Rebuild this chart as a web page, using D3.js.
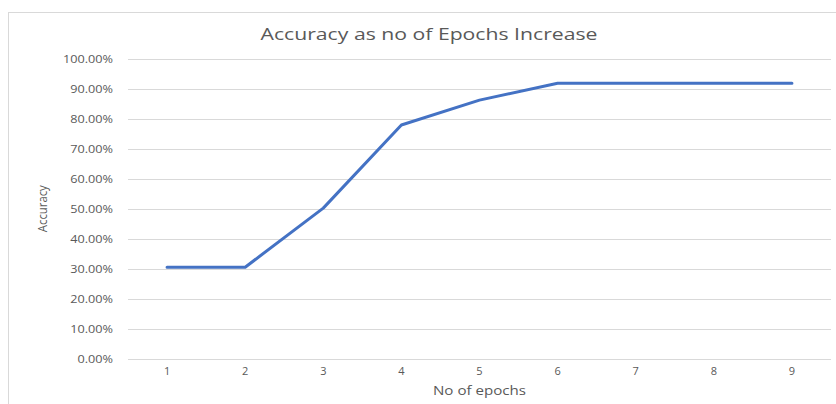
<!DOCTYPE html>
<html>
<head>
<meta charset="utf-8">
<script src="https://cdn.jsdelivr.net/npm/d3@7"></script>
<style>
  html, body { margin: 0; padding: 0; background: #fff; }
  svg { display: block; }
</style>
</head>
<body>
<svg id="chart" width="836" height="404"></svg>
<script>
// Epoch numbers along the x axis
const epochs = ["1", "2", "3", "4", "5", "6", "7", "8", "9"];
// Accuracy reached at each epoch (fraction)
const accuracy = [0.305, 0.305, 0.502, 0.779, 0.862, 0.918, 0.918, 0.918, 0.918];
// Y tick values
const yTicks = [0, 0.1, 0.2, 0.3, 0.4, 0.5, 0.6, 0.7, 0.8, 0.9, 1.0];

const svg = d3.select("#chart");
const fontFam = "'Open Sans', 'Liberation Sans', sans-serif";
const textColor = "#595959";

// Widen a text node horizontally by a factor, keeping its anchor
function stretch(sel, factor) {
  sel.each(function () {
    const w = this.getComputedTextLength();
    d3.select(this).attr("textLength", w * factor).attr("lengthAdjust", "spacingAndGlyphs");
  });
}

// Outer chart frame
svg.append("rect")
  .attr("x", 8.5).attr("y", 12.5)
  .attr("width", 840).attr("height", 400)
  .attr("fill", "#fff")
  .attr("stroke", "#d9d9d9").attr("stroke-width", 1);

const plot = { left: 128, right: 831, top: 58.7, bottom: 358.7 };

const x = d3.scaleBand().domain(epochs).range([plot.left, plot.right]);
const y = d3.scaleLinear().domain([0, 1]).range([plot.bottom, plot.top]);

// Horizontal gridlines
svg.append("g")
  .selectAll("line")
  .data(yTicks)
  .join("line")
  .attr("x1", plot.left).attr("x2", plot.right)
  .attr("y1", d => Math.round(y(d)) + 0.5)
  .attr("y2", d => Math.round(y(d)) + 0.5)
  .attr("stroke", "#d9d9d9").attr("stroke-width", 1);

// Y axis labels
const yAxis = d3.axisLeft(y).tickValues(yTicks)
  .tickFormat(d3.format(".2%")).tickSize(0).tickPadding(0);
const yg = svg.append("g").attr("transform", `translate(${plot.left - 15},0)`).call(yAxis);
yg.select(".domain").remove();
yg.selectAll("text")
  .attr("font-family", fontFam).attr("font-size", 11)
  .attr("fill", textColor);
stretch(yg.selectAll("text"), 1.15);

// X axis labels
const xAxis = d3.axisBottom(x).tickSize(0).tickPadding(0);
const xg = svg.append("g").attr("transform", `translate(0,${plot.bottom + 8})`).call(xAxis);
xg.select(".domain").remove();
xg.selectAll("text")
  .attr("font-family", fontFam).attr("font-size", 11)
  .attr("fill", textColor);

// Accuracy line
const line = d3.line()
  .x((d, i) => x(epochs[i]) + x.bandwidth() / 2)
  .y(d => y(d));

svg.append("path")
  .datum(accuracy)
  .attr("d", line)
  .attr("fill", "none")
  .attr("stroke", "#4472c4")
  .attr("stroke-width", 3)
  .attr("stroke-linejoin", "round")
  .attr("stroke-linecap", "round");

// Title
svg.append("text")
  .attr("x", 429).attr("y", 40)
  .attr("text-anchor", "middle")
  .attr("font-family", fontFam).attr("font-size", 16.5)
  .attr("fill", textColor)
  .attr("textLength", 337)
  .attr("lengthAdjust", "spacingAndGlyphs")
  .text("Accuracy as no of Epochs Increase");

// X axis title
svg.append("text")
  .attr("x", (plot.left + plot.right) / 2).attr("y", 395)
  .attr("text-anchor", "middle")
  .attr("font-family", fontFam).attr("font-size", 12)
  .attr("fill", textColor)
  .attr("textLength", 93)
  .attr("lengthAdjust", "spacingAndGlyphs")
  .text("No of epochs");

// Y axis title
svg.append("text")
  .attr("transform", `translate(47,${(plot.top + plot.bottom) / 2}) rotate(-90)`)
  .attr("text-anchor", "middle")
  .attr("font-family", fontFam).attr("font-size", 12)
  .attr("fill", textColor)
  .attr("textLength", 47)
  .attr("lengthAdjust", "spacingAndGlyphs")
  .text("Accuracy");
</script>
</body>
</html>
